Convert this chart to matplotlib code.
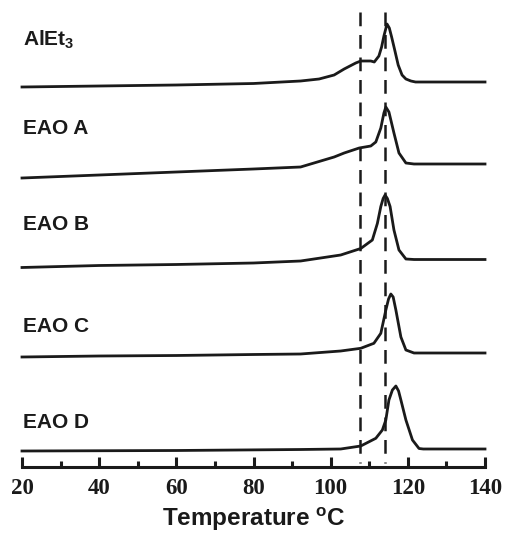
"""
DSC melting curves of AlEt3 and EAO A-D, stacked with vertical offsets.
"""

import matplotlib
matplotlib.use("Agg")
import matplotlib.pyplot as plt
from matplotlib.ticker import MultipleLocator

plt.rcParams["font.family"] = ["Liberation Sans", "DejaVu Sans"]
plt.rcParams["mathtext.fontset"] = "custom"
plt.rcParams["mathtext.rm"] = "Liberation Sans"
plt.rcParams["mathtext.bf"] = "Liberation Sans:bold"

# --- DATA (heat flow, arbitrary units) ---
NAMES = ["AlEt$_{\\bf 3}$", "EAO A", "EAO B", "EAO C", "EAO D"]
OFFSETS = [385, 303, 207.5, 114, 18]
LABEL_Y = [427, 339, 242, 140, 45]
PEAK_LINES = [107.5, 114.0]

T_ALET3 = [20, 40, 60, 80, 92.2, 97, 100.9, 103.5, 106.5, 107.8, 110.4, 111.3,
           112.5, 113.2, 113.8, 114.6, 115.2, 115.8, 116.6, 117.5, 118.5, 119.5,
           120.8, 122, 140]
H_ALET3 = [-5, -4, -3, -1.5, 1, 3, 7, 13, 19, 21, 21, 20,
           26, 35, 46, 58, 54, 45, 32, 17, 7, 3,
           1, 0, 0]

T_EAO_A = [20, 40, 60, 80, 92.2, 100.9, 103.5, 107.4, 110.4, 111.7, 113.0,
           113.8, 114.3, 115.1, 116.4, 117.7, 119.5, 121.6, 140]
H_EAO_A = [-14, -11, -8, -5, -3, 7, 11, 16, 18, 22, 36,
           51, 57, 52, 31, 11, 1, 0, 0]

T_EAO_B = [20, 40, 60, 80, 92.2, 102.6, 107.8, 110.8, 112.1, 113.0, 113.6,
           114.1, 114.7, 115.4, 116.4, 117.7, 119.5, 121.6, 140]
H_EAO_B = [-8, -6, -5, -3.5, -1.5, 4.5, 11, 19.5, 36, 53, 61,
           64.5, 61, 53, 29.5, 9.5, 0.5, 0, 0]

T_EAO_C = [20, 40, 60, 80, 92.2, 102.6, 107.8, 111.2, 113.0, 114.3, 115.0,
           115.6, 116.2, 116.9, 118.2, 119.5, 121.6, 140]
H_EAO_C = [-4, -3, -2.5, -1.5, -1, 2, 4.7, 9.7, 19.7, 43, 54,
           59, 56, 43, 16, 3, 0, 0]

T_EAO_D = [20, 60, 92.2, 102.6, 107.8, 111.7, 113.4, 114.3, 115.1, 116.0,
           116.9, 117.6, 118.2, 119.5, 121.2, 122.9, 124, 140]
H_EAO_D = [-2, -1.5, -0.5, 0, 3, 10.7, 19, 29, 49, 59,
           63, 58, 49, 29, 9, 0.5, 0, 0]

TEMPS = [T_ALET3, T_EAO_A, T_EAO_B, T_EAO_C, T_EAO_D]
HEATS = [H_ALET3, H_EAO_A, H_EAO_B, H_EAO_C, H_EAO_D]

fig = plt.figure(figsize=(5.05, 5.33), dpi=100)
ax = fig.add_axes([22 / 505, 66 / 533, 463 / 505, 467 / 533])

for t, h, off, name, ly in zip(TEMPS, HEATS, OFFSETS, NAMES, LABEL_Y):
    ax.plot(t, [v + off for v in h], color="#1a1a1a", lw=2.0,
            solid_joinstyle="round", clip_on=False)
    ax.text(20.3, ly, name, ha="left", va="center", fontsize=15,
            fontweight="bold", color="#1a1a1a")

# garis putus-putus posisi puncak
for xp in PEAK_LINES:
    ax.plot([xp, xp], [455, 4], color="#1a1a1a", lw=1.8,
            linestyle=(0, (5.5, 3.5)))

ax.set_xlim(20, 140)
ax.set_ylim(0, 467)

for side in ("left", "right", "top"):
    ax.spines[side].set_visible(False)
ax.spines["bottom"].set_linewidth(2.2)
ax.spines["bottom"].set_color("#1a1a1a")
ax.set_yticks([])

ax.xaxis.set_major_locator(MultipleLocator(20))
ax.xaxis.set_minor_locator(MultipleLocator(10))
ax.tick_params(axis="x", which="major", direction="in", length=7.5, width=2.2,
               color="#1a1a1a", pad=8)
ax.tick_params(axis="x", which="minor", direction="in", length=4.5, width=2.2,
               color="#1a1a1a")
for lbl in ax.get_xticklabels():
    lbl.set_fontfamily("Liberation Serif")
    lbl.set_fontweight("bold")
    lbl.set_fontsize(16.5)
    lbl.set_color("#1a1a1a")

ax.set_xlabel("Temperature $^{\\bf o}$C", fontsize=17.5, fontweight="bold",
              color="#1a1a1a", labelpad=4)

fig.savefig("out.png", dpi=100)
